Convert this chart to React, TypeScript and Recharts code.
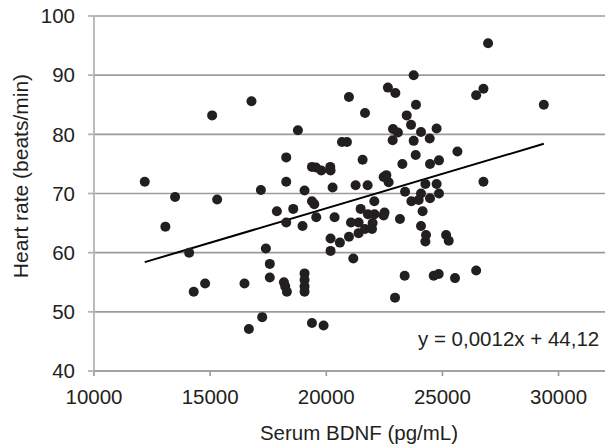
import { ScatterChart, Scatter, XAxis, YAxis, CartesianGrid, ReferenceLine, Label } from "recharts"

// serum BDNF (pg/mL) and heart rate (beats/min), one entry per subject
const bdnf = [
  12185, 13491, 13073, 14095, 15086, 15302, 16780, 17185, 14784, 14293, 16478, 17241, 16668, 17400,
  23763, 22653, 22974, 20977, 23862, 21667, 23463, 23649, 18779, 22874,
  23085, 24078, 20675, 20891, 22858, 23763, 23849, 18276, 21565, 23276,
  19384, 19556, 19784, 20172, 20185, 22470, 22586, 22685, 18276, 19065,
  20272, 21263, 21780, 23392, 24078, 23978, 23664, 22069, 19384, 19483,
  17873, 18578, 21479, 21793, 22078, 22509, 22470, 24147, 18276, 18978,
  19569, 20358, 21064, 21392, 21996, 23172, 24078,
  21970, 21667, 21392, 20977, 20586, 20185, 20185, 21164, 17569, 17569,
  18177, 18233, 18305, 19065, 19065, 19065, 19065, 19384, 19884, 22960, 23375,
  26966, 26767, 26453, 29366, 24750, 24453, 25647, 24853, 24466, 26767, 24267, 24750, 24853, 24466,
  24293, 24267, 25159, 25272, 24625, 24841, 25543, 26453,
]
const heartRate = [
  72.0, 69.4, 64.4, 60.0, 83.2, 69.0, 85.6, 70.6, 54.8, 53.4, 54.8, 49.1, 47.1, 60.7,
  90.0, 87.9, 87.0, 86.3, 85.0, 83.6, 83.2, 81.6, 80.7, 80.9,
  80.3, 80.4, 78.7, 78.7, 79.0, 78.9, 76.5, 76.1, 75.7, 75.0,
  74.5, 74.4, 73.9, 74.5, 73.9, 72.8, 73.1, 71.9, 72.0, 70.5,
  71.0, 71.4, 71.4, 70.3, 70.0, 68.9, 68.7, 68.7, 68.7, 68.2,
  67.0, 67.4, 67.4, 66.5, 66.5, 66.8, 66.3, 67.0, 65.1, 64.5,
  66.0, 66.0, 65.1, 65.1, 65.0, 65.7, 64.5,
  64.0, 64.0, 63.3, 62.7, 61.7, 62.4, 60.3, 59.0, 58.1, 55.8,
  55.0, 54.3, 53.4, 56.5, 55.4, 54.3, 53.4, 48.1, 47.7, 52.4, 56.1,
  95.4, 87.7, 86.6, 85.0, 81.0, 79.3, 77.1, 75.6, 75.0, 72.0, 71.6, 71.6, 70.0, 69.2,
  63.0, 61.9, 63.0, 62.0, 56.1, 56.4, 55.7, 57.0,
]

const xTicks = [10000, 15000, 20000, 25000, 30000]
const yTicks = [40, 50, 60, 70, 80, 90, 100]

// linear trendline ends
const trendX = [12185, 29366]
const trendY = [58.4, 78.4]
const equation = "y = 0,0012x + 44,12"

const data = bdnf.map((x, i) => ({ x, y: heartRate[i] }))

const font = "'Liberation Sans', Arial, sans-serif"
const textColor = "#231f20"
const fs = 20.5

export default function App() {
  return (
    <div style={{ position: "absolute", left: 0, top: 0 }}>
      <ScatterChart width={610} height={447} margin={{ top: 16, right: 5, bottom: 0, left: 0 }}>
        <CartesianGrid vertical={false} stroke="#9c9c9c" strokeWidth={1.7} />
        <XAxis
          type="number"
          dataKey="x"
          domain={[10000, 32000]}
          ticks={xTicks}
          height={76}
          stroke="#9c9c9c"
          strokeWidth={1.7}
          tickSize={5}
          tickMargin={13}
          tick={{ fill: textColor, fontSize: fs, fontFamily: font }}
        >
          <Label
            content={() => (
              <g>
                <text x={359} y={432} textAnchor="middle" dominantBaseline="central" fill={textColor} fontSize={fs} fontFamily={font}>
                  Serum BDNF (pg/mL)
                </text>
                <text x={418} y={338} textAnchor="start" dominantBaseline="central" fill={textColor} fontSize={fs} fontFamily={font}>
                  {equation}
                </text>
              </g>
            )}
          />
        </XAxis>
        <YAxis
          type="number"
          dataKey="y"
          domain={[40, 100]}
          ticks={yTicks}
          width={94}
          stroke="#b5b5b5"
          strokeWidth={1.8}
          tickSize={6}
          tickMargin={13}
          tick={{ fill: textColor, fontSize: fs, fontFamily: font }}
        >
          <Label
            content={() => (
              <text x={20} y={176} transform="rotate(-90 20 176)" textAnchor="middle" dominantBaseline="central" fill={textColor} fontSize={fs + 0.5} fontFamily={font}>
                Heart rate (beats/min)
              </text>
            )}
          />
        </YAxis>
        <Scatter
          data={data}
          isAnimationActive={false}
          shape={(p: any) => <circle cx={p.cx} cy={p.cy} r={5} fill={textColor} />}
        />
        <ReferenceLine
          segment={[
            { x: trendX[0], y: trendY[0] },
            { x: trendX[1], y: trendY[1] },
          ]}
          stroke="#000"
          strokeWidth={2}
          ifOverflow="visible"
        />
      </ScatterChart>
    </div>
  )
}
